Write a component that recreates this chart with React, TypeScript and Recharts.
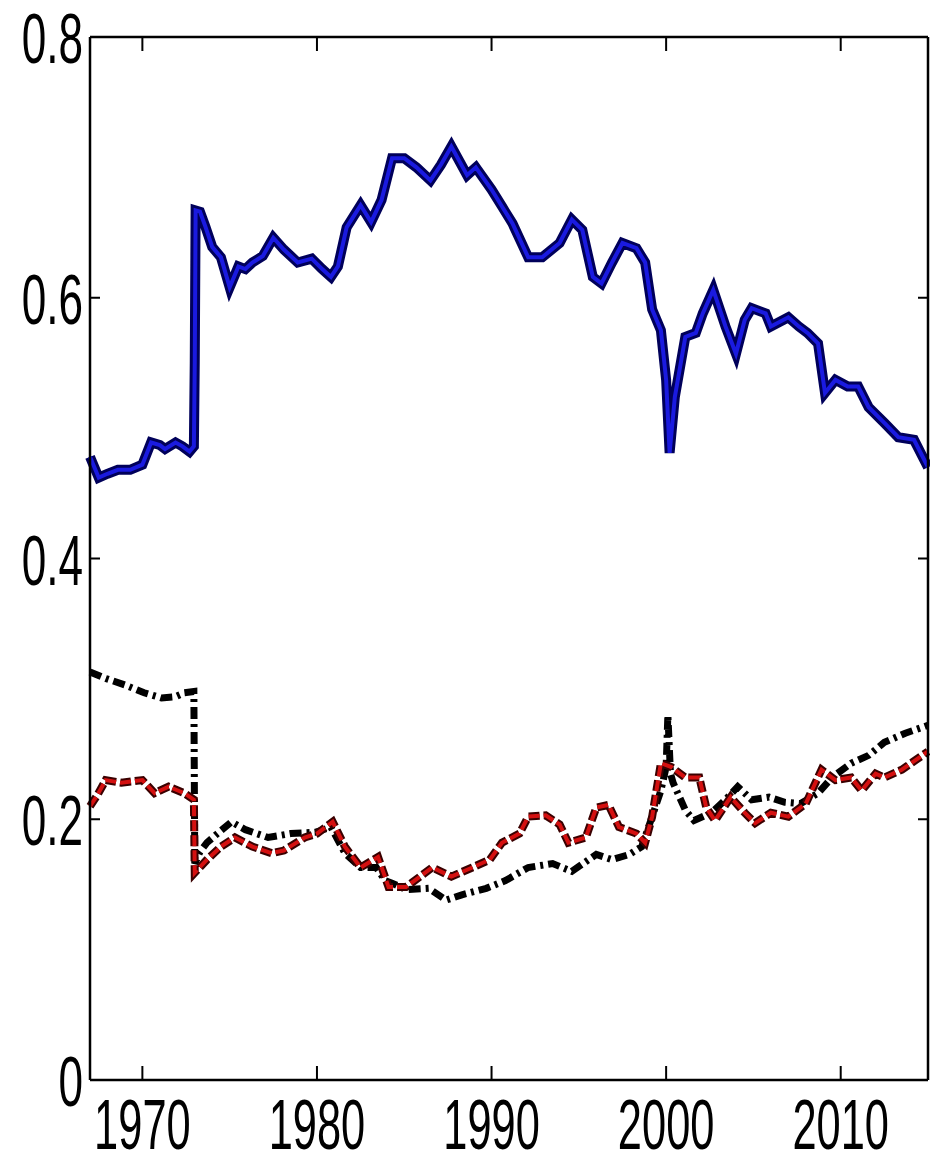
import { LineChart, Line, XAxis, YAxis } from "recharts";

const xTicks = [1970, 1980, 1990, 2000, 2010];
const yTicks = [0, 0.2, 0.4, 0.6, 0.8];

const blueYears = [
  1967.0, 1967.5, 1968.0, 1968.6, 1969.3, 1970.0, 1970.5, 1971.0, 1971.3, 1971.9, 1972.3, 1972.7, 1972.95,
  1973.0, 1973.05, 1973.3, 1973.6, 1974.0, 1974.5, 1975.0, 1975.5, 1975.9, 1976.3, 1976.9, 1977.5, 1978.1,
  1978.9, 1979.7, 1980.3, 1980.8, 1981.2, 1981.7, 1982.5, 1983.1, 1983.7, 1984.3, 1985.0, 1985.7, 1986.5,
  1987.1, 1987.7, 1988.6, 1989.1, 1990.0, 1990.6, 1991.2, 1992.1, 1992.9, 1993.9, 1994.6, 1995.2, 1995.8,
  1996.3, 1996.9, 1997.5, 1998.3, 1998.8, 1999.2, 1999.7, 2000.0, 2000.2, 2000.5, 2001.1, 2001.7, 2002.1,
  2002.7, 2003.4, 2004.0, 2004.5, 2004.9, 2005.7, 2006.0, 2007.0, 2007.6, 2008.1, 2008.7, 2009.1, 2009.7,
  2010.4, 2011.0, 2011.6, 2012.5, 2013.3, 2014.2, 2015.0,
];
const blueValues = [
  0.478, 0.462, 0.465, 0.468, 0.468, 0.472, 0.489, 0.487, 0.484, 0.489, 0.486, 0.482, 0.486,
  0.55, 0.667, 0.666, 0.655, 0.639, 0.631, 0.608, 0.624, 0.622, 0.627, 0.632, 0.646, 0.637,
  0.627, 0.63, 0.622, 0.616, 0.624, 0.654, 0.671, 0.658, 0.675, 0.707, 0.707, 0.7, 0.69,
  0.702, 0.716, 0.694, 0.7, 0.683, 0.67, 0.657, 0.631, 0.631, 0.642, 0.66, 0.652, 0.616,
  0.611, 0.627, 0.642, 0.638, 0.627, 0.591, 0.575, 0.537, 0.481, 0.524, 0.57, 0.573, 0.588,
  0.606, 0.578, 0.557, 0.583, 0.592, 0.588, 0.578, 0.585, 0.578, 0.573, 0.565, 0.527, 0.537,
  0.532, 0.532, 0.516, 0.504, 0.493, 0.491, 0.47,
];

const blackYears = [
  1967.0, 1967.9, 1969.0, 1970.1, 1971.1, 1971.9, 1972.4, 1972.95, 1973.0, 1973.3, 1973.7, 1974.3, 1975.1,
  1975.9, 1977.2, 1978.5, 1979.9, 1980.8, 1981.6, 1982.5, 1983.4, 1983.9, 1984.3, 1985.1, 1986.4, 1987.4,
  1988.3, 1989.7, 1990.8, 1992.1, 1993.5, 1994.6, 1996.0, 1996.9, 1997.9, 1998.6, 1999.2, 1999.7, 2000.0,
  2000.1, 2000.25, 2000.4, 2001.1, 2001.6, 2002.6, 2003.4, 2004.1, 2004.9, 2005.9, 2006.8, 2007.7, 2008.7,
  2009.5, 2010.6, 2011.6, 2012.5, 2013.7, 2015.0,
];
const blackValues = [
  0.313, 0.308, 0.303, 0.297, 0.293, 0.294, 0.297, 0.298, 0.166, 0.175, 0.182, 0.189, 0.198,
  0.192, 0.186, 0.189, 0.19, 0.194, 0.174, 0.163, 0.163, 0.153, 0.151, 0.146, 0.147, 0.138,
  0.142, 0.147, 0.153, 0.163, 0.166, 0.16, 0.173, 0.169, 0.173, 0.179, 0.202, 0.222, 0.24,
  0.28, 0.235, 0.228, 0.207, 0.199, 0.205, 0.215, 0.225, 0.215, 0.217, 0.213, 0.212, 0.22,
  0.232, 0.243, 0.249, 0.259, 0.266, 0.272,
];

const redYears = [
  1967.0, 1967.4, 1967.9, 1968.8, 1970.0, 1970.7, 1971.5, 1972.4, 1972.95, 1973.0, 1973.7, 1974.5, 1975.3,
  1976.3, 1977.4, 1978.1, 1979.3, 1980.0, 1980.9, 1981.6, 1982.5, 1983.5, 1984.1, 1985.1, 1986.6, 1987.7,
  1988.9, 1989.9, 1990.6, 1991.6, 1992.1, 1993.1, 1993.9, 1994.4, 1995.4, 1996.0, 1996.7, 1997.3, 1998.3,
  1998.8, 1999.2, 1999.7, 2000.3, 2001.1, 2001.9, 2002.3, 2002.8, 2003.7, 2004.5, 2005.1, 2006.0, 2007.0,
  2008.0, 2008.9, 2009.7, 2010.6, 2011.2, 2012.0, 2012.5, 2013.5, 2015.0,
];
const redValues = [
  0.21, 0.218, 0.23, 0.228, 0.23, 0.22, 0.225, 0.22, 0.215, 0.159, 0.169, 0.179, 0.186,
  0.179, 0.174, 0.176, 0.186, 0.189, 0.198, 0.179, 0.163, 0.171, 0.148, 0.148, 0.163, 0.156,
  0.163, 0.169, 0.182, 0.189, 0.202, 0.203, 0.196, 0.182, 0.186, 0.209, 0.211, 0.194, 0.189,
  0.182, 0.202, 0.243, 0.24, 0.232, 0.232, 0.209, 0.199, 0.217, 0.205, 0.197, 0.205, 0.202,
  0.212, 0.238, 0.23, 0.232, 0.222, 0.235, 0.232, 0.238, 0.252,
];

const toPoints = (years: number[], values: number[]) =>
  years.map((year, i) => ({ year, value: values[i] }));

const blueData = toPoints(blueYears, blueValues);
const blackData = toPoints(blackYears, blackValues);
const redData = toPoints(redYears, redValues);

const labelFont = "'Liberation Sans', Arial, sans-serif";

// matlab-style ticks: mark drawn inward, label outside
function BottomTick({ x, y, payload }: any) {
  return (
    <g>
      <line x1={x} y1={y} x2={x} y2={y - 14} stroke="#000" strokeWidth={2} />
      <text
        transform={`translate(${x},${y + 69}) scale(0.62,1)`}
        textAnchor="middle"
        fontFamily={labelFont}
        fontSize={70}
        fill="#000"
      >
        {payload.value}
      </text>
    </g>
  );
}

function TopTick({ x, y }: any) {
  return <line x1={x} y1={y} x2={x} y2={y + 14} stroke="#000" strokeWidth={2} />;
}

function LeftTick({ x, y, payload }: any) {
  return (
    <g>
      <line x1={x} y1={y} x2={x + 10} y2={y} stroke="#000" strokeWidth={2} />
      <text
        transform={`translate(${x - 7},${y + 26}) scale(0.63,1)`}
        textAnchor="end"
        fontFamily={labelFont}
        fontSize={70}
        fill="#000"
      >
        {payload.value}
      </text>
    </g>
  );
}

function RightTick({ x, y }: any) {
  return <line x1={x} y1={y} x2={x - 10} y2={y} stroke="#000" strokeWidth={2} />;
}

export default function App() {
  const axisLine = { stroke: "#000", strokeWidth: 2.5 };
  return (
    <div style={{ position: "absolute", left: 0, top: 0, background: "#fff" }}>
      <LineChart
        width={930}
        height={1163}
        margin={{ top: 36, right: 1, bottom: 0, left: 30 }}
      >
        <XAxis
          dataKey="year"
          type="number"
          domain={[1967, 2015]}
          ticks={xTicks}
          height={83}
          axisLine={axisLine}
          tickLine={false}
          tickSize={0}
          tickMargin={0}
          tick={<BottomTick />}
          allowDuplicatedCategory={false}
        />
        <XAxis
          xAxisId="top"
          orientation="top"
          dataKey="year"
          type="number"
          domain={[1967, 2015]}
          ticks={xTicks}
          height={1}
          axisLine={axisLine}
          tickLine={false}
          tickSize={0}
          tickMargin={0}
          tick={<TopTick />}
          allowDataOverflow
        />
        <YAxis
          type="number"
          domain={[0, 0.8]}
          ticks={yTicks}
          width={60}
          axisLine={axisLine}
          tickLine={false}
          tickSize={0}
          tickMargin={0}
          tick={<LeftTick />}
        />
        <YAxis
          yAxisId="right"
          orientation="right"
          type="number"
          domain={[0, 0.8]}
          ticks={yTicks}
          width={1}
          axisLine={axisLine}
          tickLine={false}
          tickSize={0}
          tickMargin={0}
          tick={<RightTick />}
          allowDataOverflow
        />
        <Line
          data={blueData}
          dataKey="value"
          type="linear"
          stroke="#00005a"
          strokeWidth={10}
          dot={false}
          isAnimationActive={false}
        />
        <Line
          data={blueData}
          dataKey="value"
          type="linear"
          stroke="#1a1ae0"
          strokeWidth={4}
          dot={false}
          isAnimationActive={false}
        />
        <Line
          data={blackData}
          dataKey="value"
          type="linear"
          stroke="#000"
          strokeWidth={7}
          strokeDasharray="12 5 3 5"
          dot={false}
          isAnimationActive={false}
        />
        <Line
          data={redData}
          dataKey="value"
          type="linear"
          stroke="#3a0000"
          strokeWidth={8}
          strokeDasharray="11 4"
          dot={false}
          isAnimationActive={false}
        />
        <Line
          data={redData}
          dataKey="value"
          type="linear"
          stroke="#d41010"
          strokeWidth={4}
          strokeDasharray="11 4"
          dot={false}
          isAnimationActive={false}
        />
      </LineChart>
    </div>
  );
}
